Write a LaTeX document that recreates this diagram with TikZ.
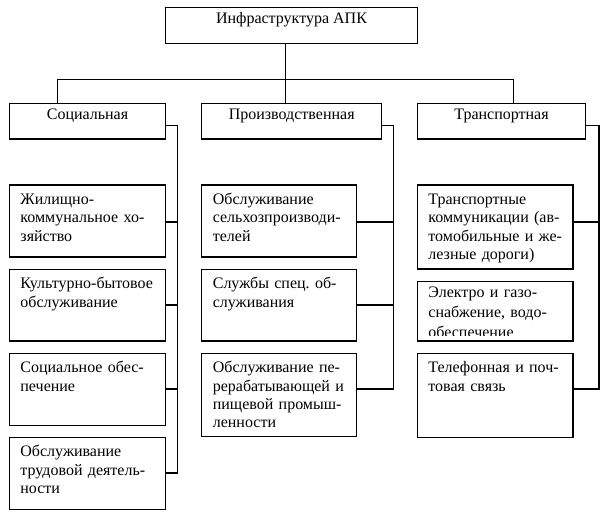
\documentclass[tikz,border=0pt]{standalone}
\usepackage{fontspec}
\setmainfont{Liberation Serif}
\usetikzlibrary{fit}
\frenchspacing
\begin{document}
\begin{tikzpicture}[x=0.75pt,y=-0.75pt,
  box/.style={draw, line width=0.95pt, inner sep=0pt, font=\fontsize{12}{13.75}\selectfont},
  txt/.style={anchor=base west, align=left, text width=200pt, inner sep=0pt, font=\fontsize{12}{13.75}\selectfont},
  conn/.style={line width=0.95pt}]
\useasboundingbox (0,0) rectangle (605,519);

% top and level 2
\node[box, fit={(165.7,7.3) (417.3,43.3)}] (top) {Инфраструктура АПК};
\node[box, fit={(9.3,103.3) (165.7,139)}] (soc) {Социальная};
\node[box, fit={(201.7,103.3) (381.7,139)}] (prod) {Производственная};
\node[box, fit={(417.3,103.3) (585.7,139)}] (tra) {Транспортная};

% social column
\node[box, fit={(9.3,185) (165.7,257)}] (s1) {};
\node[box, fit={(9.3,269.3) (165.7,341)}] (s2) {};
\node[box, fit={(9.3,353.3) (165.7,425.7)}] (s3) {};
\node[box, fit={(9.3,437.3) (165.7,509.3)}] (s4) {};
\node[txt] (s1t) at ([shift={(11.5,20)}]s1.north west) {Жилищно-\\коммунальное хо-\\зяйство};
\node[txt] (s2t) at ([shift={(11.5,20)}]s2.north west) {Культурно-бытовое\\обслуживание};
\node[txt] (s3t) at ([shift={(11.5,20)}]s3.north west) {Социальное обес-\\печение};
\node[txt] (s4t) at ([shift={(11.5,20)}]s4.north west) {Обслуживание\\трудовой деятель-\\ности};

% production column
\node[box, fit={(201.7,185) (356.7,257)}] (p1) {};
\node[box, fit={(201.7,269.3) (356.7,341)}] (p2) {};
\node[box, fit={(201.7,353.3) (356.7,436.7)}] (p3) {};
\node[txt] (p1t) at ([shift={(11.5,20)}]p1.north west) {Обслуживание\\сельхозпроизводи-\\телей};
\node[txt] (p2t) at ([shift={(11.5,20)}]p2.north west) {Службы спец. об-\\служивания};
\node[txt] (p3t) at ([shift={(11.5,20)}]p3.north west) {Обслуживание пе-\\рерабатывающей и\\пищевой промыш-\\ленности};

% transport column
\node[box, fit={(417.3,185) (573,269)}] (t1) {};
\node[box, fit={(417.3,281.7) (573,341)}] (t2) {};
\node[box, fit={(417.3,353.3) (573,437.3)}] (t3) {};
\node[txt] (t1t) at ([shift={(11.5,20)}]t1.north west) {Транспортные\\коммуникации (ав-\\томобильные и же-\\лезные дороги)};
\begin{scope}
  \clip (417.3,281.7) rectangle (573,335.5);
  \node[txt, font=\fontsize{12}{14.8}\selectfont] (t2t) at ([shift={(11.5,16.8)}]t2.north west) {Электро и газо-\\снабжение, водо-\\обеспечение};
\end{scope}
\node[txt] (t3t) at ([shift={(11.5,20)}]t3.north west) {Телефонная и поч-\\товая связь};

% coordinates
\coordinate (hub) at (285.7,79.3);
\coordinate (hl) at (57.3,79.3);
\coordinate (hr) at (513.3,79.3);
\coordinate (bs) at (177.3,125.7);
\coordinate (bp) at (393.3,125.7);
\coordinate (bt) at (599,125.7);
\coordinate (r1) at (0,222);
\coordinate (r2) at (0,305);
\coordinate (r3) at (0,389);
\coordinate (r4) at (0,473);

% top connectors
\draw[conn] (hub |- top.south) -- (hub |- prod.north);
\draw[conn] (hl |- soc.north) -- (hl) -- (hr) -- (hr |- tra.north);

% social bracket
\draw[conn] (soc.east |- bs) -- (bs) -- (bs |- r4) -- (s4.east |- r4);
\draw[conn] (s1.east |- r1) -- (bs |- r1);
\draw[conn] (s2.east |- r2) -- (bs |- r2);
\draw[conn] (s3.east |- r3) -- (bs |- r3);

% production bracket
\draw[conn] (prod.east |- bp) -- (bp) -- (bp |- r3) -- (p3.east |- r3);
\draw[conn] (p1.east |- r1) -- (bp |- r1);
\draw[conn] (p2.east |- r2) -- (bp |- r2);

% transport bracket
\draw[conn] (tra.east |- bt) -- (bt) -- (bt |- r3) -- (t3.east |- r3);
\draw[conn] (t1.east |- r1) -- (bt |- r1);
\end{tikzpicture}
\end{document}
